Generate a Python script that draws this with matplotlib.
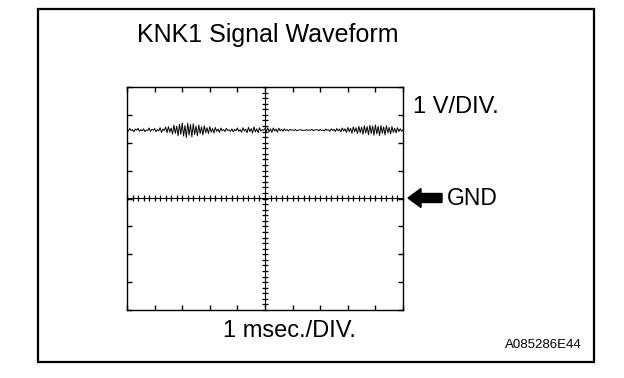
import numpy as np
import matplotlib
matplotlib.use("Agg")
import matplotlib.pyplot as plt
from matplotlib.patches import Rectangle, FancyArrow
from matplotlib.ticker import MultipleLocator, NullFormatter

plt.rcParams['font.family'] = ['Liberation Sans', 'DejaVu Sans']

title = "KNK1 Signal Waveform"
x_label = "1 msec./DIV."
y_label = "1 V/DIV."
gnd_label = "GND"
code_label = "A085286E44"

# time in ms (10 divisions of 1 ms), signal in V (GND = 0)
signal_v = [
    2.46, 2.42, 2.51, 2.44, 2.47, 2.39, 2.49, 2.45, 2.52, 2.41,
    2.47, 2.43, 2.50, 2.40, 2.46, 2.44, 2.53, 2.41, 2.48, 2.45,
    2.51, 2.40, 2.47, 2.43, 2.54, 2.37, 2.49, 2.44, 2.56, 2.36,
    2.58, 2.38, 2.53, 2.31, 2.63, 2.34, 2.59, 2.25, 2.66, 2.30,
    2.71, 2.24, 2.62, 2.19, 2.70, 2.27, 2.65, 2.21, 2.68, 2.29,
    2.60, 2.25, 2.64, 2.33, 2.57, 2.28, 2.61, 2.36, 2.54, 2.33,
    2.58, 2.38, 2.51, 2.35, 2.55, 2.41, 2.49, 2.37, 2.53, 2.43,
    2.47, 2.40, 2.52, 2.44, 2.46, 2.41, 2.50, 2.39, 2.48, 2.43,
    2.53, 2.41, 2.47, 2.38, 2.54, 2.42, 2.49, 2.36, 2.55, 2.40,
    2.51, 2.35, 2.57, 2.39, 2.50, 2.36, 2.54, 2.42, 2.47, 2.45,
    2.51, 2.40, 2.54, 2.39, 2.50, 2.37, 2.53, 2.42, 2.49, 2.38,
    2.52, 2.43, 2.48, 2.41, 2.50, 2.44, 2.47, 2.42, 2.48, 2.45,
    2.46, 2.44, 2.48, 2.43, 2.45, 2.46, 2.47, 2.44, 2.45, 2.45,
    2.47, 2.44, 2.46, 2.45, 2.48, 2.43, 2.46, 2.46, 2.47, 2.43,
    2.48, 2.44, 2.46, 2.42, 2.49, 2.45, 2.47, 2.41, 2.50, 2.44,
    2.48, 2.40, 2.51, 2.43, 2.49, 2.39, 2.53, 2.42, 2.50, 2.37,
    2.55, 2.40, 2.52, 2.34, 2.57, 2.39, 2.54, 2.33, 2.59, 2.36,
    2.56, 2.30, 2.61, 2.35, 2.58, 2.29, 2.63, 2.33, 2.60, 2.27,
    2.64, 2.32, 2.59, 2.26, 2.62, 2.34, 2.57, 2.28, 2.61, 2.35,
    2.55, 2.32, 2.58, 2.37, 2.52, 2.35, 2.54, 2.40, 2.50, 2.41,
    2.46,
]
t_ms = np.linspace(0, 10, len(signal_v))

W, H = 624, 378
fig = plt.figure(figsize=(W / 100, H / 100), dpi=100)
fig.patch.set_facecolor('white')

# plot box in pixel terms
L, R, T, B = 127, 403, 87, 310
ax = fig.add_axes([L / W, 1 - B / H, (R - L) / W, (B - T) / H])
ax.set_xlim(0, 10)
ax.set_ylim(-4, 4)
for s in ax.spines.values():
    s.set_linewidth(1.0)
    s.set_color('black')
ax.xaxis.set_major_locator(MultipleLocator(1))
ax.yaxis.set_major_locator(MultipleLocator(1))
ax.xaxis.set_major_formatter(NullFormatter())
ax.yaxis.set_major_formatter(NullFormatter())
ax.tick_params(which='major', direction='in', length=3.8, width=1.0,
               top=True, right=True, bottom=True, left=True,
               labelbottom=False, labelleft=False)

# center graticule lines with minor ticks
sx = ax.secondary_xaxis(0.5)
sx.xaxis.set_major_locator(MultipleLocator(1))
sx.xaxis.set_minor_locator(MultipleLocator(0.2))
sx.xaxis.set_major_formatter(NullFormatter())
sx.tick_params(which='both', direction='inout', length=4, width=0.9, labelbottom=False)
sx.spines['bottom'].set_linewidth(1.0)

sy = ax.secondary_yaxis(0.5)
sy.yaxis.set_major_locator(MultipleLocator(1))
sy.yaxis.set_minor_locator(MultipleLocator(0.2))
sy.yaxis.set_major_formatter(NullFormatter())
sy.tick_params(which='both', direction='inout', length=4.5, width=0.9, labelleft=False)
sy.spines['left'].set_linewidth(1.0)

ax.plot(t_ms, signal_v, color='black', lw=0.7)

# outer frame
fig.patches.append(Rectangle((38 / W, 1 - 362 / H), (594 - 38) / W, (362 - 9) / H,
                             transform=fig.transFigure, fill=False,
                             lw=1.6, edgecolor='black'))

fig.text(267.5 / W, 1 - 42 / H, title, ha='center', va='baseline', fontsize=18)
fig.text(289.5 / W, 1 - 337 / H, x_label, ha='center', va='baseline', fontsize=17)
fig.text(413 / W, 1 - 113 / H, y_label, ha='left', va='baseline', fontsize=17)
fig.text(447 / W, 1 - 205 / H, gnd_label, ha='left', va='baseline', fontsize=16.5)
fig.text(582 / W, 1 - 348 / H, code_label, ha='right', va='baseline', fontsize=9.5)

# GND arrow
fig.add_artist(FancyArrow(442 / 100, (H - 198) / 100, -0.34, 0,
                          width=0.09, head_width=0.19, head_length=0.13,
                          length_includes_head=True, color='black',
                          transform=fig.dpi_scale_trans))

fig.savefig('out.png', dpi=100)
